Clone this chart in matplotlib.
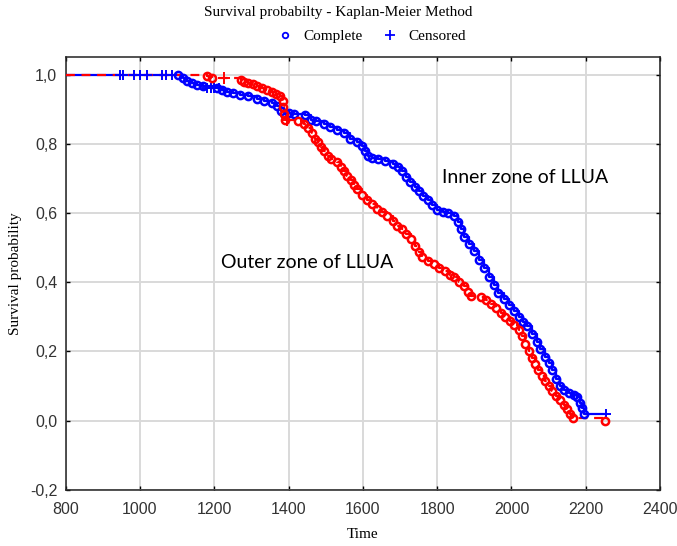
import matplotlib
matplotlib.use("Agg")
import matplotlib.pyplot as plt
from matplotlib.lines import Line2D
from matplotlib.ticker import FuncFormatter

# Inner zone of LLUA: event times and Kaplan-Meier survival after each event
inner_time = [1103, 1115, 1126, 1140, 1153, 1170, 1207, 1220, 1234, 1250,
              1270, 1290, 1315, 1335, 1355, 1370, 1380, 1400, 1415, 1445,
              1460, 1475, 1495, 1512, 1530, 1549, 1566, 1585, 1598, 1606,
              1614, 1625, 1640, 1660, 1680, 1695, 1705, 1715, 1727, 1740,
              1750, 1762, 1775, 1787, 1800, 1815, 1830, 1845, 1855, 1863,
              1872, 1885, 1899, 1912, 1926, 1940, 1953, 1965, 1980, 1993,
              2006, 2020, 2032, 2042, 2055, 2068, 2078, 2090, 2100, 2110,
              2120, 2130, 2142, 2155, 2168, 2177, 2185, 2190, 2195]
inner_surv = [1.000, 0.990, 0.981, 0.976, 0.971, 0.966, 0.962, 0.957, 0.950, 0.947,
              0.942, 0.937, 0.930, 0.925, 0.918, 0.908, 0.894, 0.889, 0.885, 0.882,
              0.870, 0.865, 0.856, 0.848, 0.840, 0.832, 0.815, 0.805, 0.795, 0.780,
              0.766, 0.760, 0.757, 0.750, 0.742, 0.732, 0.720, 0.705, 0.690, 0.675,
              0.665, 0.650, 0.637, 0.622, 0.610, 0.603, 0.600, 0.590, 0.575, 0.555,
              0.530, 0.510, 0.490, 0.465, 0.440, 0.415, 0.392, 0.370, 0.352, 0.333,
              0.318, 0.300, 0.285, 0.272, 0.250, 0.228, 0.208, 0.185, 0.165, 0.145,
              0.120, 0.100, 0.088, 0.080, 0.075, 0.068, 0.050, 0.035, 0.018]
inner_cens_time = [945, 955, 985, 1000, 1020, 1060, 1070, 1085, 1180, 1190, 1200, 1212, 2255]
inner_cens_surv = [1.0, 1.0, 1.0, 1.0, 1.0, 1.0, 1.0, 1.0, 0.962, 0.962, 0.962, 0.962, 0.018]

# Outer zone of LLUA
outer_time = [1180, 1193, 1272, 1280, 1290, 1305, 1315, 1328, 1342, 1355,
              1366, 1376, 1384, 1386, 1388, 1390, 1425, 1441, 1452, 1462,
              1470, 1478, 1487, 1495, 1505, 1515, 1530, 1540, 1549, 1558,
              1567, 1576, 1585, 1598, 1612, 1625, 1639, 1652, 1666, 1680,
              1693, 1705, 1717, 1729, 1740, 1750, 1760, 1775, 1791, 1805,
              1820, 1835, 1845, 1858, 1872, 1882, 1892, 1917, 1932, 1944,
              1958, 1971, 1982, 1995, 2008, 2020, 2028, 2036, 2046, 2055,
              2063, 2072, 2082, 2090, 2100, 2110, 2120, 2130, 2141, 2150,
              2158, 2165, 2252]
outer_surv = [0.995, 0.990, 0.985, 0.980, 0.975, 0.972, 0.968, 0.962, 0.955, 0.950,
              0.945, 0.937, 0.925, 0.905, 0.885, 0.868, 0.865, 0.858, 0.845, 0.830,
              0.815, 0.805, 0.790, 0.780, 0.765, 0.755, 0.748, 0.733, 0.722, 0.708,
              0.695, 0.680, 0.668, 0.652, 0.638, 0.625, 0.613, 0.603, 0.590, 0.576,
              0.562, 0.553, 0.540, 0.525, 0.505, 0.488, 0.472, 0.460, 0.452, 0.440,
              0.432, 0.422, 0.415, 0.400, 0.388, 0.372, 0.360, 0.357, 0.348, 0.338,
              0.325, 0.312, 0.300, 0.287, 0.275, 0.262, 0.245, 0.222, 0.200, 0.180,
              0.163, 0.145, 0.128, 0.115, 0.100, 0.085, 0.070, 0.060, 0.045, 0.033,
              0.020, 0.006, 0.000]
outer_cens_time = [1225, 1396]
outer_cens_surv = [0.990, 0.868]

start_time = 800
x_ticks = [800, 1000, 1200, 1400, 1600, 1800, 2000, 2200, 2400]
y_ticks = [-0.2, 0.0, 0.2, 0.4, 0.6, 0.8, 1.0]

BLUE = "#0000ff"
RED = "#ff0000"
SERIF = "Liberation Serif"
SANS = "Liberation Sans"

fig = plt.figure(figsize=(6.77, 5.46), dpi=100)
ax = fig.add_axes([0.097, 0.103, 0.878, 0.792])


def km_path(times, surv, end_time=None):
    xs = [start_time] + list(times)
    ys = [1.0] + list(surv)
    if end_time is not None:
        xs.append(end_time)
        ys.append(ys[-1])
    return xs, ys


# step curves
bx, by = km_path(inner_time, inner_surv, inner_cens_time[-1])
ax.step(bx, by, where="post", color=BLUE, lw=1.6, zorder=3)
rx, ry = km_path(outer_time, outer_surv)
ax.step(rx, ry, where="post", color=RED, lw=1.6, ls=(0, (4, 3)), zorder=4)

# complete (event) markers
ax.plot(inner_time, inner_surv, ls="none", marker="o", ms=5.2, mfc="none",
        mec=BLUE, mew=1.8, zorder=5)
ax.plot(outer_time, outer_surv, ls="none", marker="o", ms=5.2, mfc="none",
        mec=RED, mew=1.8, zorder=6)

# censored markers
ax.plot(inner_cens_time, inner_cens_surv, ls="none", marker="+", ms=7,
        mec=BLUE, mew=1.4, zorder=5)
ax.plot(outer_cens_time, outer_cens_surv, ls="none", marker="+", ms=9,
        mec=RED, mew=1.4, zorder=6)

ax.set_xlim(800, 2400)
ax.set_ylim(-0.2, 1.05)
ax.set_xticks(x_ticks)
ax.set_yticks(y_ticks)
ax.yaxis.set_major_formatter(FuncFormatter(lambda v, p: f"{v:.1f}".replace(".", ",")))
ax.grid(True, color="#d9d9d9", lw=1.4, zorder=0)
ax.set_axisbelow(True)
ax.tick_params(direction="in", length=3, width=1, labelsize=11.5,
               top=True, right=True)
ax.tick_params(axis="x", pad=9)
ax.tick_params(axis="y", pad=6)
for lab in ax.get_xticklabels() + ax.get_yticklabels():
    lab.set_fontfamily(SANS)
    lab.set_color("#333333")
for s in ax.spines.values():
    s.set_linewidth(1.1)
    s.set_color("#222222")

ax.set_xlabel("Time", fontfamily=SERIF, fontsize=11, labelpad=8)
ax.set_ylabel("Survival probability", fontfamily=SERIF, fontsize=11, labelpad=6)

ax.text(1813, 0.703, "Inner zone of LLUA", fontfamily="Lato", fontsize=14,
        va="center", ha="left")
ax.text(1218, 0.457, "Outer zone of LLUA", fontfamily="Lato", fontsize=14,
        va="center", ha="left")

fig.text(0.5, 0.978, "Survival probabilty - Kaplan-Meier Method",
         fontfamily=SERIF, fontsize=11, ha="center", va="center")
handles = [
    Line2D([], [], ls="none", marker="o", ms=4, mfc="none", mec=BLUE, mew=1.3),
    Line2D([], [], ls="none", marker="+", ms=7, mec=BLUE, mew=1.3),
]
fig.legend(handles, ["Complete", "Censored"], loc="center", ncol=2,
           bbox_to_anchor=(0.548, 0.934), frameon=False,
           prop={"family": SERIF, "size": 11}, handlelength=1.2,
           handletextpad=0.6, columnspacing=1.2)

fig.savefig("out.png", dpi=100)
